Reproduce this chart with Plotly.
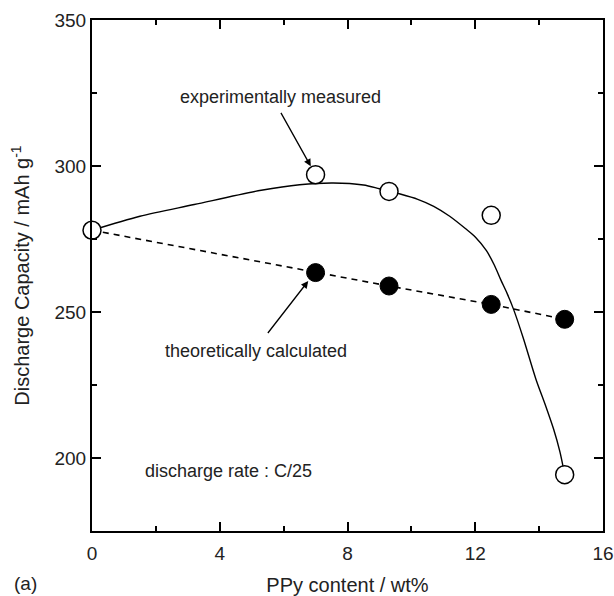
import plotly.graph_objects as go

# PPy content (wt%)
ppy = [0, 7.0, 9.3, 12.5, 14.8]
# experimentally measured discharge capacity (mAh/g)
measured = [278.0, 297.0, 291.3, 283.1, 194.3]
# theoretically calculated discharge capacity (mAh/g)
theory_x = [7.0, 9.3, 12.5, 14.8]
theory = [263.5, 258.9, 252.6, 247.5]
fit_x = [0, 1.5, 3.2, 5.3, 6.5, 7.55, 8.5, 9.0, 9.65, 10.2, 10.7, 11.2, 11.7, 12.0, 12.35, 12.6, 12.8, 13.0, 13.2, 13.5, 13.9, 14.2, 14.45, 14.65, 14.8]
fit_y = [278.0, 282.8, 286.8, 291.7, 293.6, 294.2, 293.5, 292.2, 290.4, 288.6, 286.2, 282.8, 278.5, 275.7, 271.0, 266.0, 261.0, 256.3, 250.9, 241.2, 227.0, 218.0, 210.0, 202.2, 194.3]

FONT = "Liberation Sans, Arial, sans-serif"
TXT = "#222"

fig = go.Figure()
fig.add_trace(go.Scatter(x=fit_x, y=fit_y, mode="lines", line=dict(color="black", width=1.4, shape="spline", smoothing=0.8),
                         showlegend=False, hoverinfo="skip"))
fig.add_trace(go.Scatter(x=[ppy[0]] + theory_x, y=[measured[0]] + theory, mode="lines",
                         line=dict(color="black", width=1.6, dash="6px,5px"), showlegend=False))
fig.add_trace(go.Scatter(x=theory_x, y=theory, mode="markers",
                         marker=dict(symbol="circle", size=18, color="black", line=dict(color="black", width=1)),
                         showlegend=False))
fig.add_trace(go.Scatter(x=ppy, y=measured, mode="markers",
                         marker=dict(symbol="circle", size=18, color="white", line=dict(color="black", width=1.5)),
                         showlegend=False, cliponaxis=False))
# invisible trace to activate mirrored tick axes
fig.add_trace(go.Scatter(x=[None], y=[None], xaxis="x2", yaxis="y2", showlegend=False, hoverinfo="skip"))

tick_common = dict(ticks="inside", ticklen=9, tickwidth=2, tickcolor="black", showgrid=False, zeroline=False,
                   automargin=False,
                   minor=dict(ticks="inside", ticklen=5, tickwidth=2, tickcolor="black"))

xticks = [0, 4, 8, 12, 16]
yticks = [200, 250, 300, 350]

fig.update_layout(
    xaxis=dict(range=[0, 16], tickvals=xticks, minor_dtick=2, showline=True, linecolor="black", linewidth=2,
               mirror=True, ticklabelstandoff=4, tickfont=dict(family=FONT, size=19, color=TXT),
               title=dict(text="PPy content / wt%", font=dict(family=FONT, size=20, color=TXT), standoff=24),
               **tick_common),
    yaxis=dict(range=[175, 350], tickvals=yticks, minor_dtick=25, minor_tick0=175, showline=True,
               linecolor="black", linewidth=2, mirror=True, tickfont=dict(family=FONT, size=19, color=TXT),
               title=dict(text="Discharge Capacity / mAh g<sup>-1</sup>", font=dict(family=FONT, size=20, color=TXT), standoff=19),
               **tick_common),
    xaxis2=dict(range=[0, 16], tickvals=xticks, minor_dtick=2, overlaying="x", side="top", anchor="y2",
                showticklabels=False, showline=False, **tick_common),
    yaxis2=dict(range=[175, 350], tickvals=yticks, minor_dtick=25, minor_tick0=175, overlaying="y", side="right",
                anchor="x2", showticklabels=False, showline=False, **tick_common),
)

anns = [
    dict(x=5.89, y=323.8, text="experimentally measured", showarrow=False, xanchor="center", yanchor="middle"),
    dict(x=5.13, y=236.5, text="theoretically calculated", showarrow=False, xanchor="center", yanchor="middle"),
    dict(x=1.6, y=195.5, text="discharge rate : C/25", showarrow=False, xanchor="left", yanchor="middle"),
    dict(x=6.85, y=299.9, ax=5.89, ay=318.7, axref="x", ayref="y", text="", showarrow=True,
         arrowhead=2, arrowsize=1.1, arrowwidth=1.3, arrowcolor="black", standoff=0),
    dict(x=6.77, y=260.6, ax=5.47, ay=242.3, axref="x", ayref="y", text="", showarrow=True,
         arrowhead=2, arrowsize=1.1, arrowwidth=1.3, arrowcolor="black", standoff=0),
    dict(x=-0.157, y=-0.102, xref="paper", yref="paper", text="(a)", showarrow=False,
         xanchor="left", yanchor="middle", font=dict(family=FONT, size=19, color=TXT)),
]
for a in anns:
    a.setdefault("xref", "x")
    a.setdefault("yref", "y")
    a.setdefault("font", dict(family=FONT, size=18, color=TXT))
fig.update_layout(annotations=anns)

fig.update_layout(width=614, height=596, margin=dict(l=92, r=11, t=20, b=65, autoexpand=False),
                  paper_bgcolor="white", plot_bgcolor="white", font=dict(family=FONT))

fig.write_html("out.html")
